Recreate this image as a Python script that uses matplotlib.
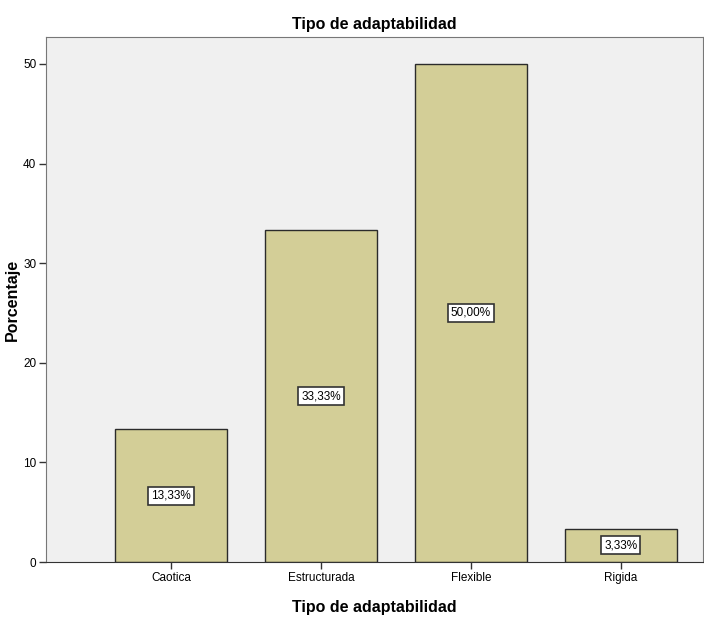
import matplotlib
matplotlib.use('Agg')
import matplotlib.pyplot as plt

categorias = ['Caotica', 'Estructurada', 'Flexible', 'Rigida']
porcentajes = [13.33, 33.33, 50.00, 3.33]
etiquetas = ['13,33%', '33,33%', '50,00%', '3,33%']
yticks = [0, 10, 20, 30, 40, 50]

plt.rcParams['font.family'] = ['Liberation Sans', 'DejaVu Sans']

fig = plt.figure(figsize=(7.04, 6.2), dpi=100)
ax = fig.add_axes([0.0653, 0.0935, 0.9333, 0.8468])
ax.set_facecolor('#F0F0F0')

x = list(range(len(categorias)))
ax.bar(x, porcentajes, width=0.75, color='#D3CE97', edgecolor='#2b2b2b', linewidth=1.0, zorder=2)

for xi, v, t in zip(x, porcentajes, etiquetas):
    ax.text(xi, v / 2, t, ha='center', va='center', fontsize=8.5, zorder=3,
            bbox=dict(boxstyle='square,pad=0.25', facecolor='white', edgecolor='#333333', linewidth=1.2))

ax.set_xlim(-0.833, 3.547)
ax.set_ylim(0, 52.7)
ax.set_xticks(x)
ax.set_xticklabels(categorias, fontsize=8.5)
ax.set_yticks(yticks)
ax.set_yticklabels([str(t) for t in yticks], fontsize=8.5)
ax.tick_params(axis='both', direction='out', length=5, width=1, color='#333333', pad=2)

for s in ['top', 'left', 'right']:
    ax.spines[s].set_color('#777777')
ax.spines['bottom'].set_color('#333333')

ax.set_title('Tipo de adaptabilidad', fontsize=11.5, fontweight='bold', pad=6)
ax.set_xlabel('Tipo de adaptabilidad', fontsize=11.5, fontweight='bold', labelpad=12)
ax.set_ylabel('Porcentaje', fontsize=11.5, fontweight='bold')
ax.yaxis.set_label_coords(-0.040, 0.5)

fig.savefig('out.png', dpi=100)
